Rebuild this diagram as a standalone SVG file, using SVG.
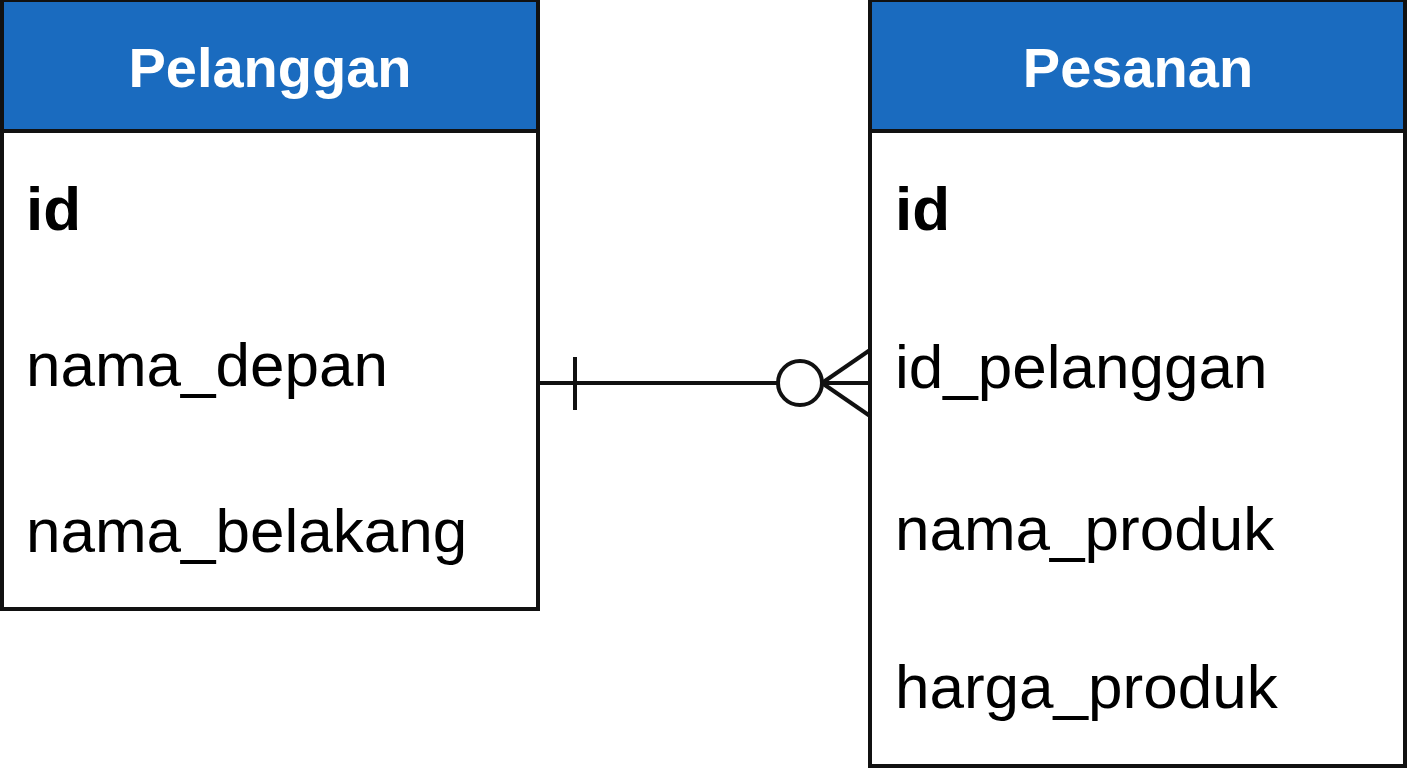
<svg xmlns="http://www.w3.org/2000/svg" width="1408" height="768" viewBox="0 0 1408 768">
<style>
.box{fill:#fff;stroke:#111;stroke-width:4}
.hdr{fill:#1a6bbf;stroke:#111;stroke-width:4}
.ht{font-family:"Liberation Sans",Arial,sans-serif;font-weight:bold;font-size:56px;fill:#fff;text-anchor:middle}
.f{font-family:"Liberation Sans",Arial,sans-serif;font-size:62px;fill:#000}
.pk{font-weight:bold}
.ln{stroke:#111;stroke-width:4;fill:none}
</style>
<rect width="1408" height="768" fill="#fff"/>
<g id="pelanggan">
<rect class="box" x="2" y="0" width="536" height="609"/>
<rect class="hdr" x="2" y="0" width="536" height="131"/>
<text class="ht" x="270" y="87">Pelanggan</text>
<text class="f pk" x="26" y="230">id</text>
<text class="f" x="26" y="386">nama_depan</text>
<text class="f" x="26" y="552">nama_belakang</text>
</g>
<g id="pesanan">
<rect class="box" x="870" y="0" width="535" height="766"/>
<rect class="hdr" x="870" y="0" width="535" height="131"/>
<text class="ht" x="1138" y="87">Pesanan</text>
<text class="f pk" x="895" y="230">id</text>
<text class="f" x="895" y="388">id_pelanggan</text>
<text class="f" x="895" y="550">nama_produk</text>
<text class="f" x="895" y="708">harga_produk</text>
</g>
<g id="connectors">
<line class="ln" x1="538" y1="383" x2="778" y2="383"/>
<line class="ln" x1="575" y1="357" x2="575" y2="410"/>
<circle class="ln" cx="800" cy="383" r="22"/>
<line class="ln" x1="822" y1="383" x2="870" y2="383"/>
<line class="ln" x1="822" y1="383" x2="870" y2="350"/>
<line class="ln" x1="822" y1="383" x2="870" y2="416"/>
</g>
</svg>
